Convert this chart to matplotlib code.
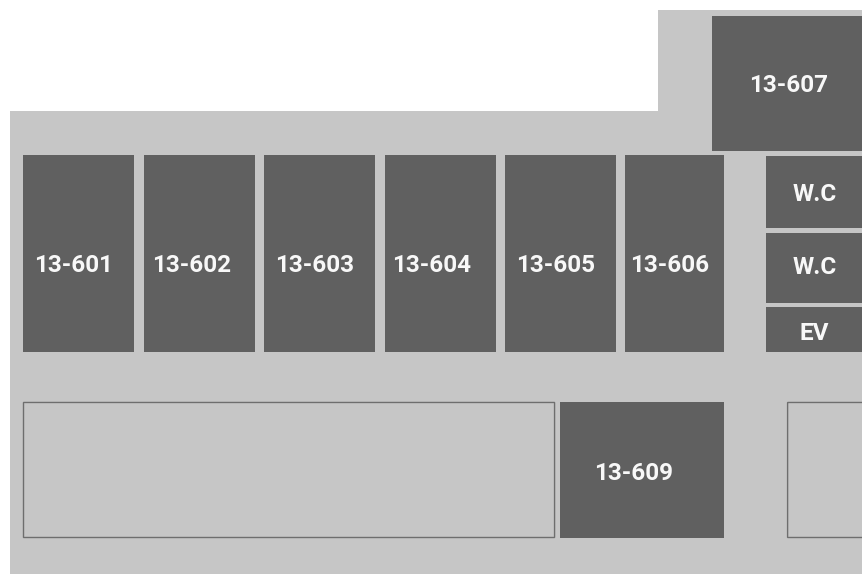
#!/usr/bin/env python3
import matplotlib
matplotlib.use("Agg")
import matplotlib.pyplot as plt
from matplotlib.patches import Polygon, Rectangle

W, H = 862, 575

# floor outline
floor_x = [10, 658, 658, 870, 870, 10]
floor_y = [111, 111, 10, 10, 574, 574]

# rooms: left, right, top, bottom
room_names = ['13-601', '13-602', '13-603', '13-604', '13-605', '13-606',
              '13-607', 'W.C', 'W.C', 'EV', '13-609']
room_left = [23, 144, 264, 385, 505, 625, 712, 766, 766, 766, 560]
room_right = [134, 255, 375, 496, 616, 724, 870, 870, 870, 870, 724]
room_top = [155, 155, 155, 155, 155, 155, 16, 156, 233, 307, 402]
room_bottom = [352, 352, 352, 352, 352, 352, 151, 228, 303, 352, 538]
label_x = [74, 191.5, 314.5, 432, 555, 669.5, 788.5, 815, 815, 814, 633.5]
label_y = [265.5, 265.5, 265.5, 265.5, 265.5, 265.5, 85.5, 194.5, 267.5, 333.5, 473.5]

# empty outlined blocks
empty_left = [23.5, 787.5]
empty_right = [554.5, 880]
empty_top = [402.5, 402.5]
empty_bottom = [537.5, 537.5]

# 8.62 * 100 truncates to 861 px without the small extra
fig = plt.figure(figsize=((W + 0.1) / 100, (H + 0.1) / 100), dpi=100)
ax = fig.add_axes([0, 0, 1, 1])
ax.set_xlim(0, W)
ax.set_ylim(H, 0)
ax.axis('off')

ax.add_patch(Polygon(list(zip(floor_x, floor_y)), closed=True, fc='#c6c6c6', ec='none'))

for l, r, t, b in zip(empty_left, empty_right, empty_top, empty_bottom):
    ax.add_patch(Rectangle((l, t), r - l, b - t, fc='none', ec='#6e6e6e', lw=1.0, snap=False))

for l, r, t, b in zip(room_left, room_right, room_top, room_bottom):
    ax.add_patch(Rectangle((l, t), r - l, b - t, fc='#606060', ec='none'))

for name, x, y in zip(room_names, label_x, label_y):
    ax.text(x, y, name, color='#f8f8f8', fontsize=17.5, ha='center', va='center',
            family=['Roboto', 'DejaVu Sans'], weight='bold')

fig.savefig('out.png', dpi=100)
